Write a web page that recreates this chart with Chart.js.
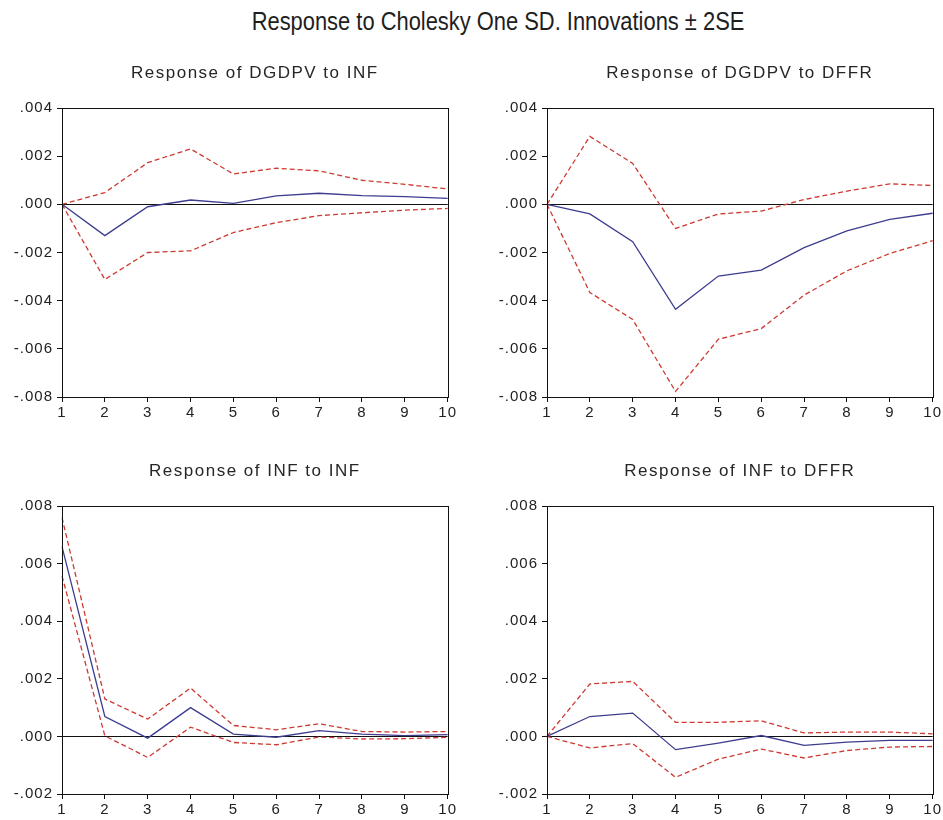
<!DOCTYPE html>
<html lang="en">
  <head>
    <meta charset="UTF-8" />
    <title>Impulse responses</title>
    <script src="https://cdn.jsdelivr.net/npm/chart.js"></script>
    <style>
      body {
        margin: 0;
        background: #fff;
        width: 943px;
        height: 820px;
        position: relative;
        overflow: hidden;
      }
      #mainTitle {
        position: absolute;
        left: 498px;
        top: 9px;
        white-space: nowrap;
        font-family: "Liberation Sans Narrow", "Liberation Sans", Arial, sans-serif;
        font-size: 25px;
        line-height: 25px;
        color: #1e1e1e;
        transform-origin: 0 0;
      }
      canvas {
        position: absolute;
      }
    </style>
  </head>
  <body>
    <div id="mainTitle">Response to Cholesky One SD. Innovations ± 2SE</div>
    <canvas id="c1" width="458" height="375" style="left:0px;top:50px"></canvas>
    <canvas id="c2" width="458" height="375" style="left:485px;top:50px"></canvas>
    <canvas id="c3" width="458" height="374" style="left:0px;top:448px"></canvas>
    <canvas id="c4" width="458" height="374" style="left:485px;top:448px"></canvas>

    <script>
      const periods = ["1", "2", "3", "4", "5", "6", "7", "8", "9", "10"];

      // Response of DGDPV to INF
      const dgdpvInf = [0, -0.0013, -0.0001, 0.00018, 0.00004, 0.00035, 0.00046, 0.00036, 0.00032, 0.00025];
      const dgdpvInfHi = [0, 0.00049, 0.00173, 0.0023, 0.00126, 0.0015, 0.00139, 0.001, 0.00083, 0.00064];
      const dgdpvInfLo = [0, -0.00312, -0.002, -0.00193, -0.00117, -0.00076, -0.00047, -0.00035, -0.00024, -0.00017];

      // Response of DGDPV to DFFR
      const dgdpvDffr = [0, -0.0004, -0.00155, -0.00436, -0.00298, -0.00273, -0.0018, -0.0011, -0.00062, -0.00037];
      const dgdpvDffrHi = [0, 0.00282, 0.0017, -0.001, -0.0004, -0.00028, 0.0002, 0.00055, 0.00085, 0.00078];
      const dgdpvDffrLo = [0, -0.00366, -0.00478, -0.00777, -0.0056, -0.00516, -0.00377, -0.00276, -0.00204, -0.00151];

      // Response of INF to INF
      const infInf = [0.00659, 0.00069, -0.00006, 0.001, 0.00008, -0.00003, 0.0002, 0.00008, 0.00003, 0.00006];
      const infInfHi = [0.0076, 0.0013, 0.0006, 0.00168, 0.00038, 0.00023, 0.00044, 0.00017, 0.00015, 0.00017];
      const infInfLo = [0.00557, 0.00002, -0.00073, 0.00032, -0.00021, -0.00029, -0.00002, -0.00009, -0.00008, -0.00003];

      // Response of INF to DFFR
      const infDffr = [0, 0.00069, 0.00081, -0.00046, -0.00023, 0.00003, -0.00031, -0.0002, -0.00014, -0.00014];
      const infDffrHi = [0, 0.00182, 0.00191, 0.00049, 0.00049, 0.00054, 0.00012, 0.00015, 0.00015, 0.00009];
      const infDffrLo = [0, -0.0004, -0.00025, -0.00142, -0.00079, -0.00044, -0.00075, -0.00049, -0.00037, -0.00035];

      const topRange = [-0.008, 0.004];
      const bottomRange = [-0.002, 0.008];
      const yStep = 0.002;

      const FONT = "'Liberation Sans', Arial, sans-serif";

      // squeeze the heading to the narrow width of the original
      const mt = document.getElementById("mainTitle");
      const sx = 493 / mt.offsetWidth;
      mt.style.transform = "scaleX(" + sx + ") translateX(-50%)";

      // box round the plot area + panel heading
      const panelFrame = {
        id: "panelFrame",
        beforeDraw(chart) {
          chart.ctx.letterSpacing = "1px";
        },
        afterDraw(chart, args, opts) {
          const { ctx, chartArea: a } = chart;
          ctx.save();
          ctx.strokeStyle = "#111";
          ctx.lineWidth = 1;
          ctx.strokeRect(
            Math.round(a.left) + 0.5,
            Math.round(a.top) + 0.5,
            Math.round(a.right - a.left),
            Math.round(a.bottom - a.top)
          );
          ctx.fillStyle = "#262626";
          ctx.font = "17px " + FONT;
          ctx.letterSpacing = "1.5px";
          ctx.textAlign = "center";
          ctx.textBaseline = "middle";
          ctx.fillText(opts.text, (a.left + a.right) / 2, a.top - 35);
          ctx.restore();
        },
      };

      function makePanel(id, title, mid, hi, lo, range) {
        new Chart(document.getElementById(id), {
          type: "line",
          data: {
            labels: periods,
            datasets: [
              { data: mid, borderColor: "#3d3d8f", borderWidth: 1.3 },
              { data: hi, borderColor: "#cc3a30", borderWidth: 1.3, borderDash: [5, 3] },
              { data: lo, borderColor: "#cc3a30", borderWidth: 1.3, borderDash: [5, 3] },
            ],
          },
          options: {
            responsive: false,
            animation: false,
            events: [],
            elements: { point: { radius: 0 }, line: { tension: 0 } },
            layout: { autoPadding: false, padding: { top: 58, right: 10, bottom: 0, left: 0 } },
            plugins: {
              legend: { display: false },
              tooltip: { enabled: false },
              panelFrame: { text: title },
            },
            scales: {
              x: {
                type: "category",
                offset: false,
                afterFit: (s) => { s.height = 28; },
                border: { display: false },
                grid: { drawOnChartArea: false, tickLength: 5, tickColor: "#111" },
                ticks: { color: "#222", padding: 2, maxRotation: 0, autoSkip: false, font: { family: FONT, size: 15 } },
              },
              y: {
                min: range[0],
                max: range[1],
                afterFit: (s) => { s.width = 62; },
                border: { display: false },
                grid: {
                  tickLength: 5,
                  tickColor: "#111",
                  color: (c) => (c.tick && Math.abs(c.tick.value) < 1e-9 ? "#111" : "rgba(0,0,0,0)"),
                },
                ticks: {
                  stepSize: yStep,
                  color: "#222",
                  padding: 4,
                  font: { family: FONT, size: 15 },
                  callback: (v) => v.toFixed(3).replace("0.", "."),
                },
              },
            },
          },
          plugins: [panelFrame],
        });
      }

      makePanel("c1", "Response of DGDPV to INF", dgdpvInf, dgdpvInfHi, dgdpvInfLo, topRange);
      makePanel("c2", "Response of DGDPV to DFFR", dgdpvDffr, dgdpvDffrHi, dgdpvDffrLo, topRange);
      makePanel("c3", "Response of INF to INF", infInf, infInfHi, infInfLo, bottomRange);
      makePanel("c4", "Response of INF to DFFR", infDffr, infDffrHi, infDffrLo, bottomRange);
    </script>
  </body>
</html>
